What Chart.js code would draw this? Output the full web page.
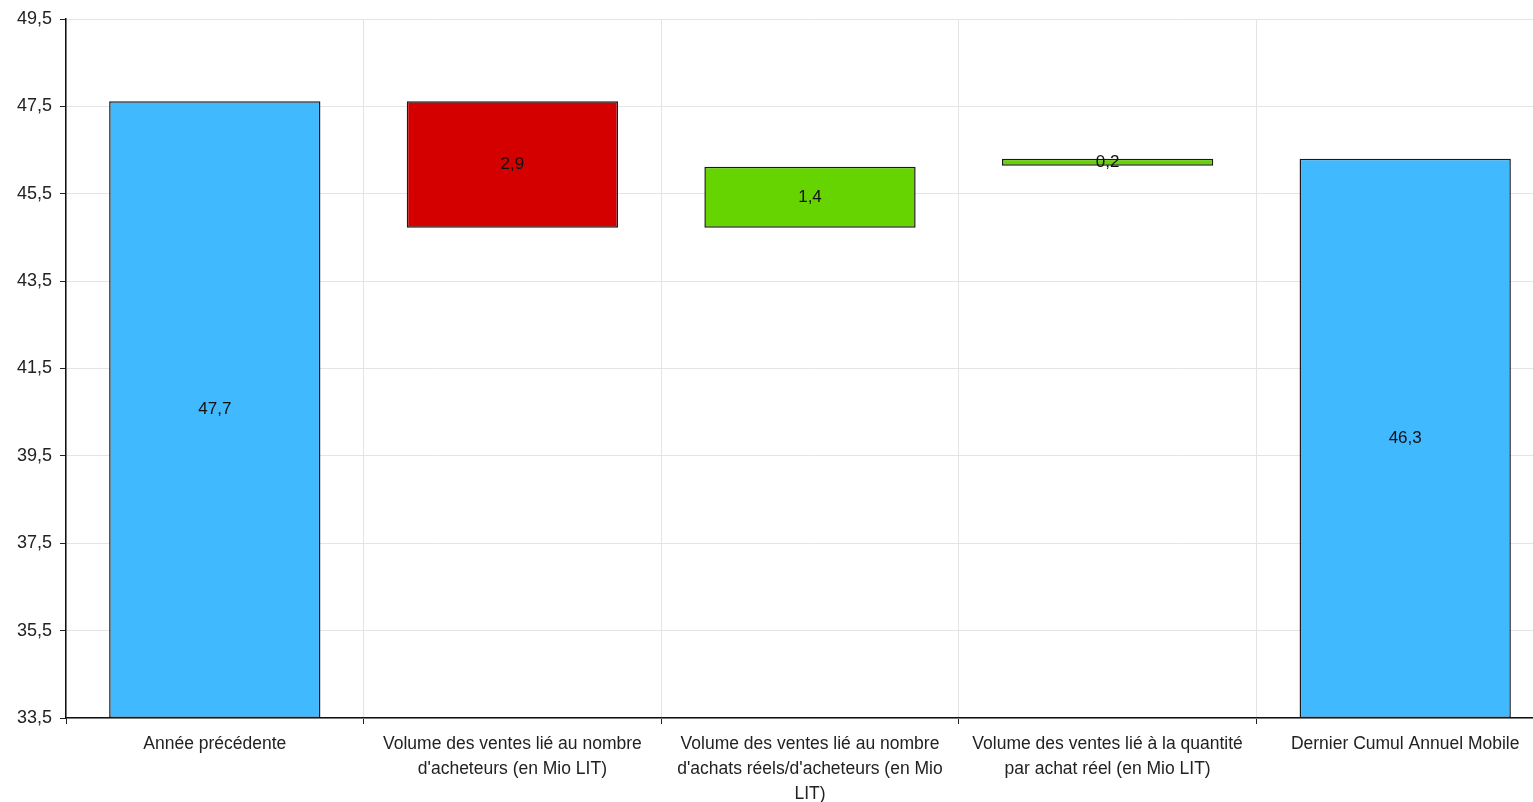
<!DOCTYPE html>
<html>
<head>
<meta charset="utf-8">
<script src="https://cdn.jsdelivr.net/npm/chart.js@4"></script>
<style>
  html, body { margin: 0; padding: 0; background: #fff; overflow: hidden; }
  #wrap { width: 1554px; height: 802px; }
</style>
</head>
<body>
<div id="wrap"><canvas id="waterfall"></canvas></div>
<script>
// catégories (axe X), une ligne par élément du tableau
const categories = [
  ['Année précédente'],
  ['Volume des ventes lié au nombre', "d'acheteurs (en Mio LIT)"],
  ['Volume des ventes lié au nombre', "d'achats réels/d'acheteurs (en Mio", 'LIT)'],
  ['Volume des ventes lié à la quantité', 'par achat réel (en Mio LIT)'],
  ['Dernier Cumul Annuel Mobile']
];
// bas et haut de chaque barre
const barLow  = [33.5, 44.72, 44.72, 46.14, 33.5];
const barHigh = [47.62, 47.62, 46.12, 46.3, 46.3];
// valeurs affichées dans les barres
const barLabels = [47.7, 2.9, 1.4, 0.2, 46.3];
// graduations de l'axe Y
const yMin = 33.5, yMax = 49.5, yStep = 2;

const fmt = v => v.toFixed(1).replace('.', ',');

// écrit la valeur au milieu de chaque barre
const labelPlugin = {
  id: 'barLabels',
  afterDatasetsDraw(chart) {
    const ctx = chart.ctx;
    const meta = chart.getDatasetMeta(0);
    ctx.save();
    ctx.font = '17px "Liberation Sans", Arial, sans-serif';
    ctx.fillStyle = '#111';
    ctx.textAlign = 'center';
    ctx.textBaseline = 'middle';
    meta.data.forEach((bar, i) => {
      const p = bar.getProps(['x', 'y', 'base'], true);
      ctx.fillText(fmt(barLabels[i]), p.x, (p.y + p.base) / 2);
    });
    ctx.restore();
  }
};

new Chart(document.getElementById('waterfall'), {
  type: 'bar',
  data: {
    labels: categories,
    datasets: [{
      data: barLow.map((lo, i) => [lo, barHigh[i]]),
      backgroundColor: ['#41B9FF', '#D40000', '#66D400', '#66D400', '#41B9FF'],
      borderColor: '#1a1a1a',
      borderWidth: 1.5,
      borderSkipped: false,
      barPercentage: 0.71,
      categoryPercentage: 1
    }]
  },
  options: {
    responsive: true,
    maintainAspectRatio: false,
    animation: false,
    layout: { padding: { top: 19, right: 0, left: 0, bottom: 0 } },
    plugins: { legend: { display: false }, tooltip: { enabled: false } },
    scales: {
      x: {
        grid: { color: '#e4e4e4', tickColor: '#222', tickLength: 6, offset: true },
        border: { color: '#111', width: 1.5 },
        ticks: {
          color: '#222',
          font: { family: '"Liberation Sans", Arial, sans-serif', size: 17.5, lineHeight: 1.42 },
          maxRotation: 0,
          autoSkip: false,
          padding: 8
        },
        afterFit(scale) { scale.height = 84; }
      },
      y: {
        min: yMin,
        max: yMax,
        grid: { color: '#e4e4e4', tickColor: '#222', tickLength: 6 },
        border: { color: '#111', width: 1.5 },
        ticks: {
          stepSize: yStep,
          color: '#222',
          font: { family: '"Liberation Sans", Arial, sans-serif', size: 18 },
          padding: 8,
          callback: v => fmt(v)
        },
        afterFit(scale) { scale.width = 66; }
      }
    }
  },
  plugins: [labelPlugin]
});
</script>
</body>
</html>
